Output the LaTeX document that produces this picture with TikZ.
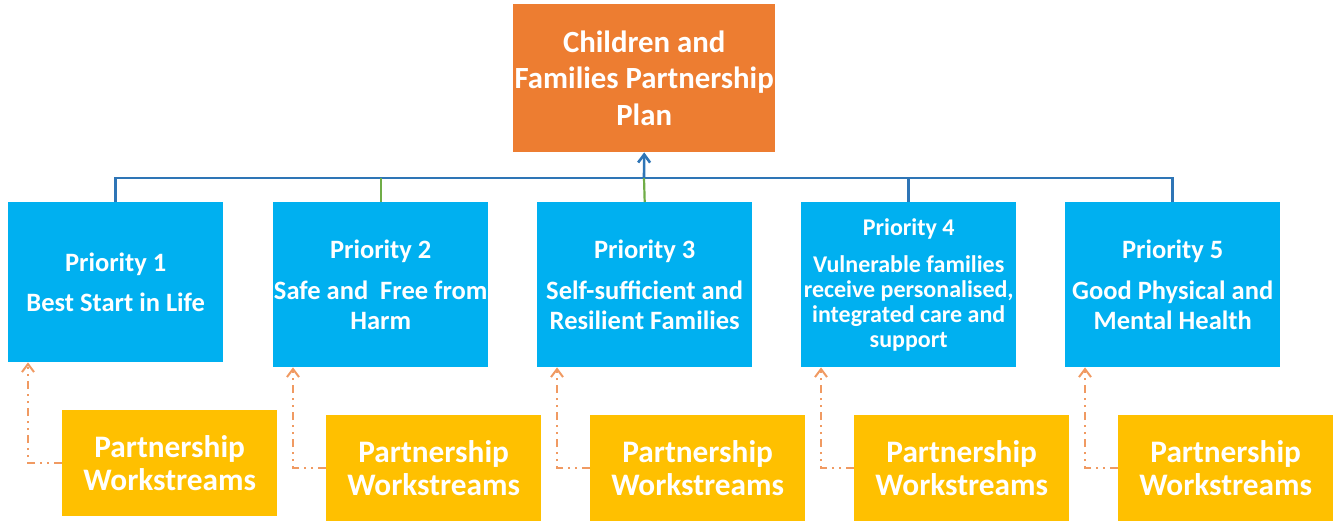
\documentclass[tikz,border=0pt]{standalone}
\usepackage{fontspec}
\setmainfont{Carlito}
\usetikzlibrary{arrows.meta}
\definecolor{orangeC}{HTML}{ED7D31}
\definecolor{blueC}{HTML}{00B0F0}
\definecolor{goldC}{HTML}{FFC000}
\definecolor{lineB}{HTML}{2E75B6}
\definecolor{lineG}{HTML}{70AD47}
\definecolor{dashO}{HTML}{F09A62}
\begin{document}
\begin{tikzpicture}[x=1pt,y=-1pt,
  box/.style={anchor=north west, inner sep=0pt, align=center, text=white, font=\bfseries},
  topbox/.style={box, fill=orangeC, minimum width=262pt, minimum height=148pt, font=\bfseries\fontsize{30.8}{36.5}\selectfont},
  prio/.style={box, fill=blueC, minimum width=215pt, font=\bfseries\fontsize{26.5}{29.5}\selectfont},
  ws/.style={box, fill=goldC, minimum width=215pt, minimum height=106pt, font=\bfseries\fontsize{31.3}{33}\selectfont},
  bus/.style={draw=lineB, line width=2.6pt},
  busg/.style={draw=lineG, line width=2.2pt},
  feed/.style={draw=dashO, line width=2pt, dash pattern=on 8pt off 5pt on 2pt off 5pt on 2pt off 5pt, -{Straight Barb[length=8pt,width=12pt]}}
]
\useasboundingbox (0,0) rectangle (1335,523);

\node[topbox] (top) at (513,4) {Children and\\Families Partnership\\Plan};

\node[prio, minimum height=160pt] (p1) at (8,202) {Priority 1\\[10pt]Best Start in Life};
\node[prio, minimum height=165pt] (p2) at (273,202) {Priority 2\\[12pt]Safe and \ Free from\\Harm};
\node[prio, minimum height=165pt] (p3) at (537,202) {Priority 3\\[12pt]Self-sufficient and\\Resilient Families};
\node[prio, minimum height=165pt, font=\bfseries\fontsize{24}{25}\selectfont] (p4) at (801,202) {Priority 4\\[12pt]Vulnerable families\\receive personalised,\\integrated care and\\support};
\node[prio, minimum height=165pt] (p5) at (1065,202) {Priority 5\\[12pt]Good Physical and\\Mental Health};

\node[ws] (w1) at (62,410) {Partnership\\Workstreams};
\node[ws] (w2) at (326,415) {Partnership\\Workstreams};
\node[ws] (w3) at (590,415) {Partnership\\Workstreams};
\node[ws] (w4) at (854,415) {Partnership\\Workstreams};
\node[ws] (w5) at (1118,415) {Partnership\\Workstreams};

\coordinate (bus) at (644,178);
\draw[bus] (p1.north) -- (p1.north |- bus) -- (p5.north |- bus) -- (p5.north);
\draw[busg] (p2.north) -- (p2.north |- bus);
\draw[busg] (p3.north) -- (bus);
\draw[bus] (p4.north) -- (p4.north |- bus);
\draw[bus, -{Straight Barb[length=8pt,width=12pt]}] (bus) -- (top.south);

\foreach \i in {1,...,5} {
  \draw[feed] (w\i.west) -| ([xshift=20pt]p\i.south west);
}
\end{tikzpicture}
\end{document}
